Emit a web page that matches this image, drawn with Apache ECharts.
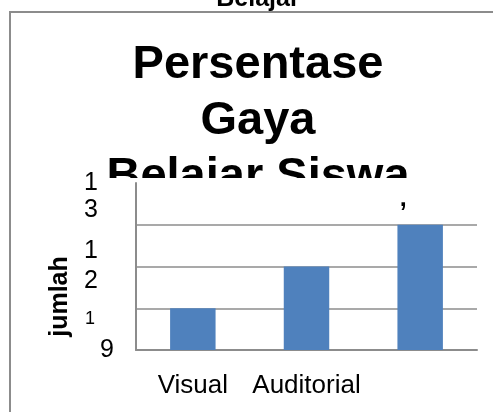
<!DOCTYPE html>
<html>
<head>
<meta charset="utf-8">
<script src="https://cdn.jsdelivr.net/npm/echarts@6/dist/echarts.min.js"></script>
<style>html,body{margin:0;padding:0;background:#fff;}#c{width:493px;height:412px;}</style>
</head>
<body>
<div id="c"></div>
<script>
var categories = ['Visual', 'Auditorial', 'Kinestetik'];
var jumlah = [10, 11, 12];
var titleText = 'Persentase\nGaya\nBelajar Siswa';
var topText = 'Belajar';
var yName = 'jumlah';
var yMin = 9, yMax = 13, yStep = 1;

var FONT = '"Liberation Sans", Arial, sans-serif';
var chart = echarts.init(document.getElementById('c'), null, {renderer: 'canvas'});
chart.setOption({
  backgroundColor: '#fff',
  animation: false,
  title: {
    text: titleText,
    left: 258, top: 37, padding: 0, textAlign: 'center', z: 6,
    textStyle: {fontFamily: FONT, fontSize: 47, fontWeight: 'bold', color: '#000', lineHeight: 56}
  },
  graphic: [
    {type: 'rect', z: 7, silent: true, shape: {x: 0, y: 178, width: 493, height: 240}, style: {fill: '#fff'}},
    {type: 'text', z: 8, x: 258, y: 12, style: {text: topText, align: 'center', verticalAlign: 'bottom', font: 'bold 25px ' + FONT, fill: '#000'}},
    {type: 'rect', z: 20, silent: true, shape: {x: 10, y: 12, width: 500, height: 420}, style: {fill: 'none', stroke: '#8c8c8c', lineWidth: 2}}
  ],
  grid: {left: 136, right: 16, top: 183, bottom: 62, containLabel: false},
  xAxis: {
    type: 'category', data: categories, z: 10,
    axisLine: {lineStyle: {color: '#8c8c8c', width: 2}},
    axisTick: {show: false},
    axisLabel: {
      interval: function (i) { return i < 2; },
      margin: 23, color: '#000', fontFamily: FONT, fontSize: 26
    }
  },
  yAxis: {
    type: 'value', min: yMin, max: yMax, interval: yStep, z: 10,
    name: yName, nameLocation: 'middle', nameGap: 63, nameRotate: 90,
    nameTextStyle: {fontFamily: FONT, fontSize: 25, fontWeight: 'bold', color: '#000', padding: [0, 60, 0, 0]},
    axisLine: {show: true, lineStyle: {color: '#8c8c8c', width: 2}},
    axisTick: {show: false},
    splitLine: {lineStyle: {color: ['#8c8c8c', '#8c8c8c', '#8c8c8c', '#8c8c8c', 'rgba(0,0,0,0)'], width: 1.5}},
    axisLabel: {
      margin: 22, color: '#000', fontFamily: FONT, fontSize: 25,
      formatter: function (v) {
        if (v === 13) return '{e| }\n{a|1}\n{a|3}';
        if (v === 11) return '{b|1}\n{b|2}';
        if (v === 9) return '{s|1}\n{n|9}\n{f| }';
        return '';
      },
      rich: {
        e: {fontSize: 25, lineHeight: 27, fontFamily: FONT, color: '#000'},
        a: {fontSize: 25, lineHeight: 27, fontFamily: FONT, color: '#000', padding: [0, 16, 0, 0]},
        b: {fontSize: 25, lineHeight: 30, fontFamily: FONT, color: '#000', padding: [0, 16, 0, 0]},
        s: {fontSize: 18, lineHeight: 31, fontFamily: FONT, color: '#000', padding: [0, 19, 0, 0]},
        n: {fontSize: 25, lineHeight: 31, fontFamily: FONT, color: '#000'},
        f: {fontSize: 25, lineHeight: 31, fontFamily: FONT, color: '#000'}
      }
    }
  },
  series: [{
    type: 'bar', data: jumlah, z: 10, barWidth: '40%',
    itemStyle: {color: '#4f81bd'},
    label: {
      show: true, position: 'top', offset: [-17, -8],
      fontFamily: FONT, fontSize: 25, fontWeight: 'bold', color: '#000',
      formatter: function (p) { return p.dataIndex === 2 ? ',' : ''; }
    }
  }]
});
</script>
</body>
</html>
